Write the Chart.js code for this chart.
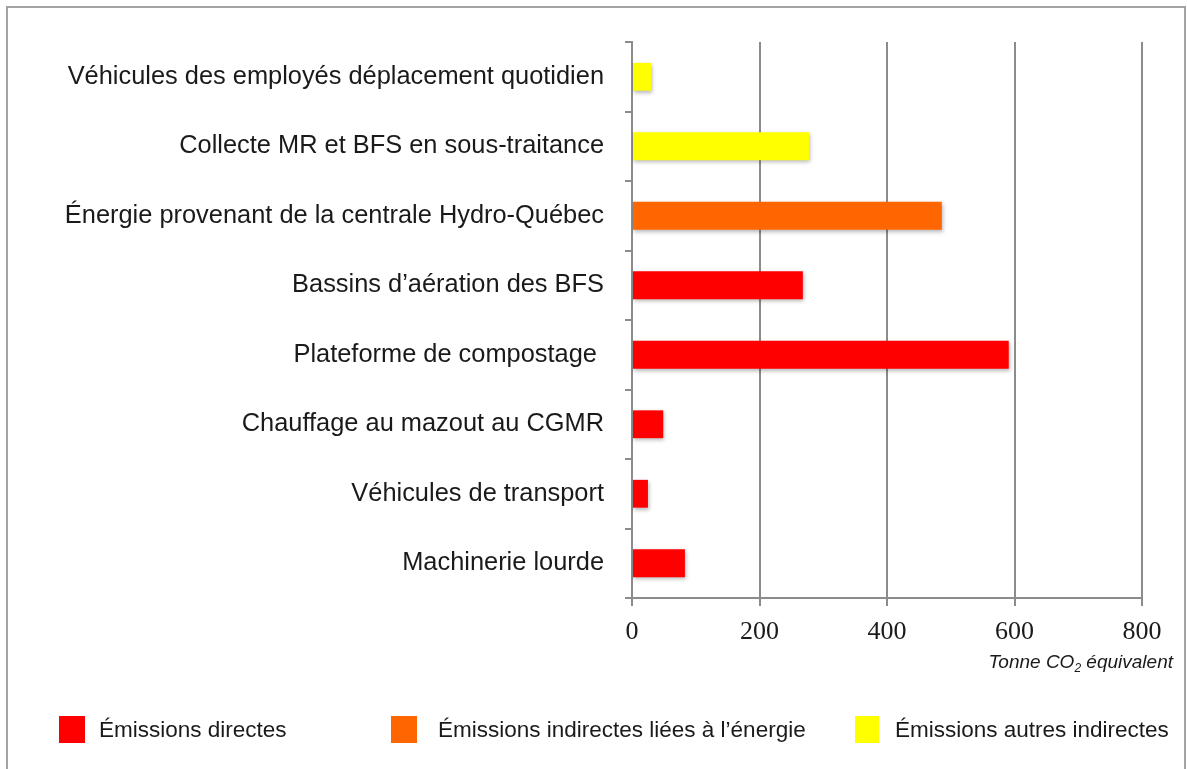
<!DOCTYPE html>
<html lang="fr">
<head>
<meta charset="utf-8">
<script src="https://cdn.jsdelivr.net/npm/chart.js@4.4.1/dist/chart.umd.min.js"></script>
<style>
  html, body { margin: 0; padding: 0; background: #fff; }
  #wrap { position: relative; width: 1187px; height: 769px; overflow: hidden; background: #fff; }
  #frame { position: absolute; left: 6px; top: 6px; width: 1180px; height: 800px; border: 2px solid #a3a3a3; box-sizing: border-box; }
  canvas { position: absolute; left: 0; top: 0; }
  .leg { position: absolute; top: 716px; height: 27px; font-family: "Liberation Sans", Arial, sans-serif; font-size: 22.5px; color: #1a1a1a; line-height: 27px; white-space: nowrap; }
  .leg .sw { position: absolute; left: 0; top: 0; width: 26px; height: 27px; }
  .leg .tx { position: absolute; left: 40px; top: 0; }
  #xtitle { position: absolute; right: 14px; top: 651px; font-family: "Liberation Sans", Arial, sans-serif; font-style: italic; font-size: 19px; color: #1a1a1a; white-space: nowrap; }
  #xtitle sub { font-size: 12px; vertical-align: -4px; line-height: 0; }
</style>
</head>
<body>
<div id="wrap">
  <div id="frame"></div>
  <canvas id="c" width="1187" height="769"></canvas>
  <div id="xtitle">Tonne CO<sub>2</sub> équivalent</div>
  <div class="leg" style="left:59px;"><div class="sw" style="background:#ff0000"></div><div class="tx">Émissions directes</div></div>
  <div class="leg" style="left:391px;"><div class="sw" style="background:#ff6600"></div><div class="tx" style="left:47px">Émissions indirectes liées à l’énergie</div></div>
  <div class="leg" style="left:855px;"><div class="sw" style="background:#ffff00; width:24px"></div><div class="tx">Émissions autres indirectes</div></div>
</div>
<script>
const categories = [
  "Véhicules des employés déplacement quotidien",
  "Collecte MR et BFS en sous-traitance",
  "Énergie provenant de la centrale Hydro-Québec",
  "Bassins d’aération des BFS",
  "Plateforme de compostage ",
  "Chauffage au mazout au CGMR",
  "Véhicules de transport",
  "Machinerie lourde"
];
const seriesNames = ["Émissions directes", "Émissions indirectes liées à l’énergie", "Émissions autres indirectes"];
const emissionsDirectes = [null, null, null, 268, 591, 49, 25, 83];
const emissionsIndirectesEnergie = [null, null, 486, null, null, null, null, null];
const emissionsAutresIndirectes = [30, 278, null, null, null, null, null, null];
const xTicks = [0, 200, 400, 600, 800];

const shadowPlugin = {
  id: 'barShadow',
  beforeDatasetsDraw(chart) {
    const ctx = chart.ctx;
    ctx.save();
    ctx.shadowColor = 'rgba(0,0,0,0.28)';
    ctx.shadowBlur = 4;
    ctx.shadowOffsetX = 1;
    ctx.shadowOffsetY = 2;
  },
  afterDatasetsDraw(chart) {
    chart.ctx.restore();
  }
};

const gridCol = '#8c8c8c';

new Chart(document.getElementById('c'), {
  type: 'bar',
  data: {
    labels: categories,
    datasets: [
      { label: seriesNames[0], data: emissionsDirectes, backgroundColor: '#ff0000' },
      { label: seriesNames[1], data: emissionsIndirectesEnergie, backgroundColor: '#ff6600' },
      { label: seriesNames[2], data: emissionsAutresIndirectes, backgroundColor: '#ffff00' }
    ]
  },
  options: {
    indexAxis: 'y',
    responsive: false,
    animation: false,
    datasets: { bar: { grouped: false, categoryPercentage: 1, barPercentage: 0.4 } },
    layout: { padding: { left: 0, top: 42, right: 45, bottom: 0 } },
    plugins: { legend: { display: false }, tooltip: { enabled: false } },
    scales: {
      y: {
        type: 'category',
        afterFit(scale) { scale.width = 632; },
        grid: { offset: true, drawOnChartArea: false, drawTicks: true, tickLength: 7, color: gridCol, lineWidth: 2 },
        border: { display: true, color: gridCol, width: 2 },
        ticks: { font: { family: '"Liberation Sans", Arial, sans-serif', size: 25.4 }, color: '#1a1a1a', padding: 21, autoSkip: false }
      },
      x: {
        type: 'linear',
        min: 0, max: 800,
        afterFit(scale) { scale.height = 171; },
        afterBuildTicks(scale) { scale.ticks = xTicks.map(v => ({ value: v })); },
        grid: { color: gridCol, lineWidth: 2, drawTicks: true, tickLength: 8 },
        border: { display: true, color: gridCol, width: 2 },
        ticks: { font: { family: '"Liberation Serif", serif', size: 26 }, color: '#1a1a1a', padding: 11 }
      }
    }
  },
  plugins: [shadowPlugin]
});
</script>
</body>
</html>
